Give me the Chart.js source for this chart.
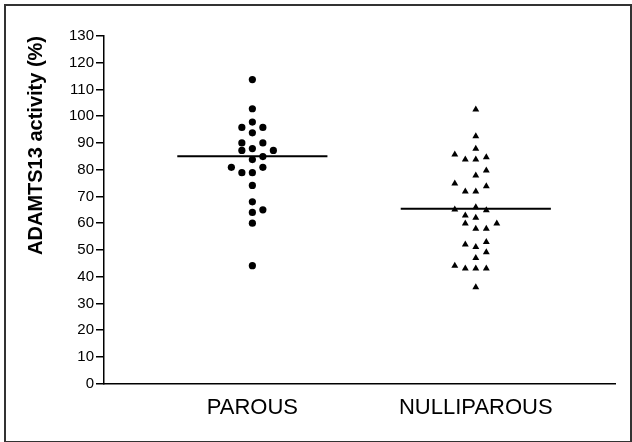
<!DOCTYPE html>
<html>
<head>
<meta charset="utf-8">
<script src="https://cdn.jsdelivr.net/npm/chart.js@4.4.0/dist/chart.umd.min.js"></script>
<style>
  body { margin: 0; background: #fff; }
  canvas { display: block; }
</style>
</head>
<body>
<canvas id="adamtsChart" width="632" height="442"></canvas>
<script>
// groups on the x axis
const groups = ['PAROUS', 'NULLIPAROUS'];

// ADAMTS13 activity (%), with the spread slot each dot sits in
const parousValues = [113.7, 102.8, 97.8, 95.8, 95.8, 93.8, 90.0, 90.0, 87.2, 87.9, 87.2,
  84.9, 83.8, 80.9, 80.9, 78.9, 78.9, 74.1, 68.0, 65.0, 64.0, 60.0, 44.1];
const parousSlots = [0, 0, 0, -1, 1, 0, -1, 1, -1, 0, 2,
  1, 0, -2, 1, -1, 0, 0, 0, 1, 0, 0, 0];

const nulliparousValues = [102.5, 92.5, 87.8, 85.7, 83.8, 83.8, 84.7, 79.7, 77.8, 74.8, 73.8,
  71.8, 71.8, 65.1, 66.0, 64.8, 62.9, 62.0, 59.9, 59.9, 57.9, 57.9, 52.0, 51.1, 53.0,
  49.1, 47.0, 44.1, 43.0, 43.0, 43.0, 36.0];
const nulliparousSlots = [0, 0, 0, -2, -1, 0, 1, 1, 0, -2, 1,
  -1, 0, -2, 0, 1, -1, 0, -1, 2, 0, 1, -1, 0, 1,
  1, 0, -2, -1, 0, 1, 0];

// horizontal bar per group
const medians = [85.0, 65.4];

const yTicks = { min: 0, max: 130, step: 10 };

const slotWidth = 0.047;
const barHalf = 0.336;

function toPoints(values, slots, groupIndex) {
  return values.map((v, i) => ({ x: groupIndex + 1 + slots[i] * slotWidth, y: v }));
}

function medianLine(i) {
  return {
    type: 'line',
    data: [{ x: i + 1 - barHalf, y: medians[i] }, { x: i + 1 + barHalf, y: medians[i] }],
    borderColor: '#000',
    borderWidth: 2,
    pointRadius: 0,
    showLine: true,
    fill: false
  };
}

const framePlugin = {
  id: 'frame',
  beforeDraw(chart) {
    const c = chart.ctx;
    c.save();
    c.fillStyle = '#fff';
    c.fillRect(0, 0, chart.width, chart.height);
    c.restore();
  },
  afterDraw(chart) {
    const c = chart.ctx;
    c.save();
    c.strokeStyle = '#333';
    c.lineWidth = 2;
    c.strokeRect(5, 5, chart.width - 6, chart.height - 5);
    c.restore();
  }
};

new Chart(document.getElementById('adamtsChart').getContext('2d'), {
  type: 'scatter',
  data: {
    datasets: [
      {
        data: toPoints(parousValues, parousSlots, 0),
        pointStyle: 'circle',
        pointRadius: 3.6,
        backgroundColor: '#000',
        borderWidth: 0
      },
      {
        data: toPoints(nulliparousValues, nulliparousSlots, 1),
        pointStyle: 'triangle',
        pointRadius: 4,
        backgroundColor: '#000',
        borderColor: '#000',
        borderWidth: 0
      },
      medianLine(0),
      medianLine(1)
    ]
  },
  options: {
    responsive: false,
    animation: false,
    layout: { padding: { left: 20, right: 17, top: 36, bottom: 10 } },
    plugins: {
      legend: { display: false },
      tooltip: { enabled: false }
    },
    scales: {
      x: {
        type: 'linear',
        min: 0.336,
        max: 2.623,
        afterBuildTicks: (scale) => {
          scale.ticks = groups.map((g, i) => ({ value: i + 1 }));
        },
        ticks: {
          callback: (v) => groups[v - 1],
          font: { family: 'Arial, "Liberation Sans"', size: 22 },
          color: '#000',
          padding: 11,
          maxRotation: 0
        },
        grid: { drawOnChartArea: false, drawTicks: false },
        border: { display: true, color: '#000', width: 1.5 }
      },
      y: {
        min: yTicks.min,
        max: yTicks.max,
        afterFit: (scale) => { scale.width = 84; },
        ticks: {
          stepSize: yTicks.step,
          font: { family: 'Arial, "Liberation Sans"', size: 15 },
          color: '#000',
          padding: 2
        },
        grid: { drawOnChartArea: false, drawTicks: true, tickLength: 8, color: '#000', lineWidth: 1.5 },
        border: { display: true, color: '#000', width: 1.5 },
        title: {
          display: true,
          text: 'ADAMTS13 activity (%)',
          align: 'end',
          color: '#000',
          font: { family: 'Arial, "Liberation Sans"', size: 20, weight: 'bold' },
          padding: { top: 4, bottom: 0 }
        }
      }
    }
  },
  plugins: [framePlugin]
});
</script>
</body>
</html>
